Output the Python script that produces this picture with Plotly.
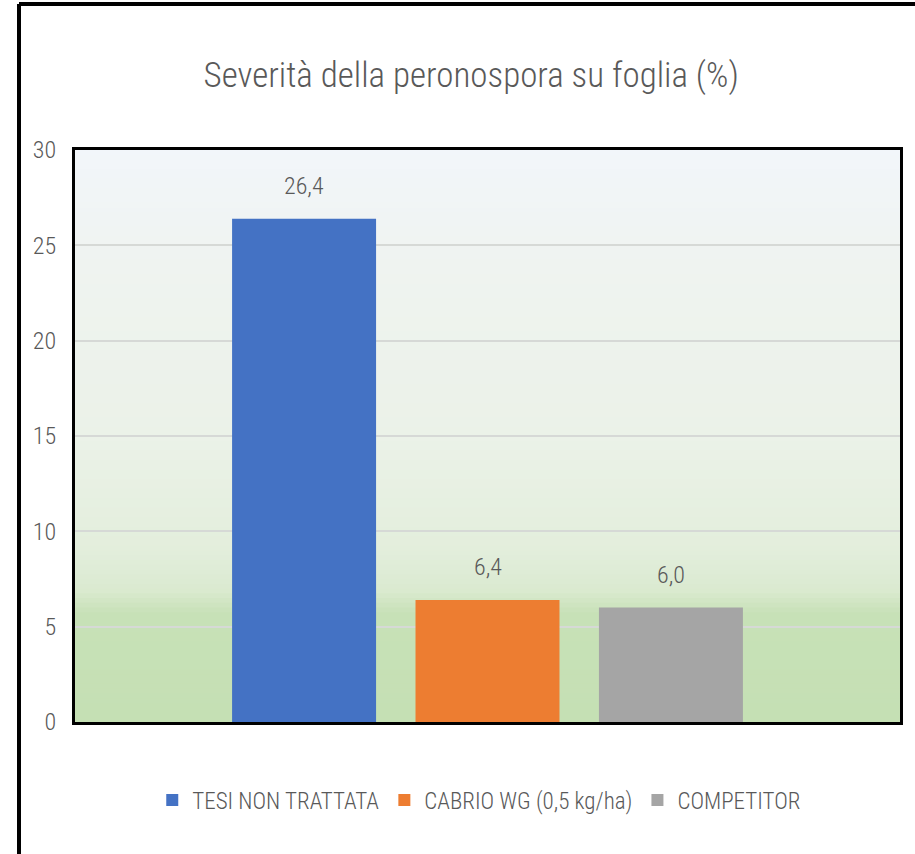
import plotly.graph_objects as go

# ---- data ----
series_names = ["TESI NON TRATTATA", "CABRIO WG (0,5 kg/ha)", "COMPETITOR"]
series_values = [26.4, 6.4, 6.0]
series_colors = ["#4472c4", "#ed7d31", "#a5a5a5"]
value_labels = ["26,4", "6,4", "6,0"]
category = [""]
y_ticks = [0, 5, 10, 15, 20, 25, 30]
title_text = "Severità della peronospora su foglia (%)"

FONT = "Roboto Condensed, DejaVu Sans Condensed, sans-serif"
TXT = "#595959"

# layout geometry (px)
W, H = 915, 854
ML, MR, MT, MB = 75, 15, 150, 132
PW = W - ML - MR
PH = H - MT - MB
BARGAP, BARGROUPGAP = 0.333, 0.215
slot_px = PW * (1 - BARGAP) / len(series_names)

fig = go.Figure()
for name, val, col in zip(series_names, series_values, series_colors):
    fig.add_trace(go.Bar(
        x=category, y=[val], name=name, marker=dict(color=col, line=dict(width=0)),
        hoverinfo="name+y",
    ))

annotations = []
for i, (val, lab) in enumerate(zip(series_values, value_labels)):
    annotations.append(dict(x=0, y=val, xref="x", yref="y", text=lab, showarrow=False,
                            xshift=(i - (len(series_names) - 1) / 2) * slot_px,
                            yanchor="bottom", yshift=17,
                            font=dict(family=FONT, size=24, color=TXT, weight=300)))

# gradient background for the plot area (styling only)
stops = [
    (0.00, (197, 224, 180)),
    (0.19, (199, 225, 183)),
    (0.23, (218, 234, 208)),
    (0.30, (227, 238, 220)),
    (0.50, (235, 242, 232)),
    (0.80, (239, 243, 240)),
    (1.00, (242, 246, 250)),
]

def col_at(f):
    for (f0, c0), (f1, c1) in zip(stops[:-1], stops[1:]):
        if f0 <= f <= f1:
            t = (f - f0) / (f1 - f0) if f1 > f0 else 0
            return "rgb(%d,%d,%d)" % tuple(round(a + (b - a) * t) for a, b in zip(c0, c1))
    return "rgb(%d,%d,%d)" % stops[-1][1]

N = 120
shapes = []
for i in range(N):
    f0 = i / N
    f1 = (i + 1) / N
    shapes.append(dict(type="rect", xref="x domain", yref="y domain",
                       x0=0, x1=1, y0=f0, y1=f1 + 0.002, layer="below",
                       line=dict(width=0), fillcolor=col_at((f0 + f1) / 2)))
# outer frame (top and left edges)
fy = (PH + MT - 4) / PH
fx = (19 - ML) / PW
shapes.append(dict(type="line", xref="paper", yref="paper", x0=fx, x1=1.1, y0=fy, y1=fy,
                   line=dict(color="black", width=4)))
shapes.append(dict(type="line", xref="paper", yref="paper", x0=fx, x1=fx, y0=fy, y1=-0.3,
                   line=dict(color="black", width=4)))

fig.update_layout(
    width=W, height=H,
    margin=dict(l=ML, r=MR, t=MT, b=MB),
    paper_bgcolor="white", plot_bgcolor="rgba(0,0,0,0)",
    separators=",.",
    barmode="group", bargap=BARGAP, bargroupgap=BARGROUPGAP,
    font=dict(family=FONT, color=TXT),
    title=dict(text=title_text, xref="container", yref="container", x=0.515, y=1 - 75 / H,
               xanchor="center", yanchor="middle",
               font=dict(family=FONT, size=35, color=TXT, weight=300)),
    showlegend=True,
    legend=dict(orientation="h", xref="paper", yref="paper", x=0.49, y=-(800 - (H - MB)) / PH,
                xanchor="center", yanchor="middle",
                font=dict(family=FONT, size=23, color=TXT, weight=300),
                itemwidth=30, tracegroupgap=0),
    shapes=shapes,
    annotations=annotations,
)
fig.update_xaxes(showticklabels=False, showgrid=False, zeroline=False,
                 showline=True, linecolor="black", linewidth=3, mirror=True)
fig.update_yaxes(range=[0, 30], tickvals=y_ticks, showgrid=True, gridcolor="#d6d9d6", gridwidth=2,
                 zeroline=False, showline=True, linecolor="black", linewidth=3, mirror=True,
                 tickfont=dict(family=FONT, size=24, color=TXT, weight=300), ticklabelstandoff=11)

fig.write_html("out.html", config={"displayModeBar": False},
               post_script="document.body.style.margin='0'")
